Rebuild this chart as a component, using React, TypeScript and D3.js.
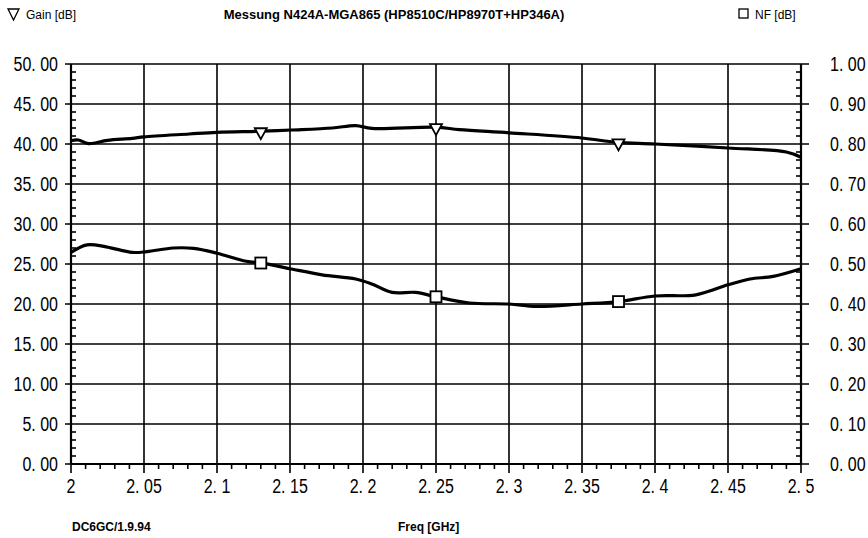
import React from "react";
import * as d3 from "d3";

// ---- data ----
const gainFreq = [2.0, 2.005, 2.012, 2.025, 2.042, 2.05, 2.081, 2.1, 2.131, 2.151, 2.179, 2.195, 2.206, 2.25, 2.266, 2.3, 2.35, 2.374, 2.4, 2.45, 2.49, 2.5];
const gainDb = [40.4, 40.5, 40.05, 40.45, 40.7, 40.9, 41.25, 41.45, 41.6, 41.75, 42.0, 42.3, 41.95, 42.1, 41.8, 41.4, 40.75, 40.2, 40.0, 39.5, 39.0, 38.35];

const nfFreq = [2.0, 2.011, 2.024, 2.042, 2.052, 2.07, 2.084, 2.1, 2.12, 2.131, 2.151, 2.172, 2.195, 2.206, 2.22, 2.236, 2.25, 2.273, 2.3, 2.319, 2.35, 2.375, 2.4, 2.428, 2.45, 2.465, 2.481, 2.5];
const nfDb = [0.529, 0.548, 0.543, 0.529, 0.531, 0.540, 0.539, 0.527, 0.507, 0.502, 0.4875, 0.473, 0.4625, 0.45, 0.429, 0.429, 0.418, 0.4025, 0.40, 0.394, 0.40, 0.406, 0.42, 0.423, 0.448, 0.4625, 0.469, 0.488];

const markerFreqs = [2.13, 2.25, 2.375];

const xTicks = [2.0, 2.05, 2.1, 2.15, 2.2, 2.25, 2.3, 2.35, 2.4, 2.45, 2.5];
const xTickLabels = ["2", "2. 05", "2. 1", "2. 15", "2. 2", "2. 25", "2. 3", "2. 35", "2. 4", "2. 45", "2. 5"];
const yLeftTicks = [0, 5, 10, 15, 20, 25, 30, 35, 40, 45, 50];
const yLeftLabels = ["0. 00", "5. 00", "10. 00", "15. 00", "20. 00", "25. 00", "30. 00", "35. 00", "40. 00", "45. 00", "50. 00"];
const yRightTicks = [0, 0.1, 0.2, 0.3, 0.4, 0.5, 0.6, 0.7, 0.8, 0.9, 1.0];
const yRightLabels = ["0. 00", "0. 10", "0. 20", "0. 30", "0. 40", "0. 50", "0. 60", "0. 70", "0. 80", "0. 90", "1. 00"];

const title = "Messung N424A-MGA865 (HP8510C/HP8970T+HP346A)";
const gainLegend = "Gain [dB]";
const nfLegend = "NF [dB]";
const footLeft = "DC6GC/1.9.94";
const xTitle = "Freq [GHz]";

const numFont = "'Liberation Sans', Arial, sans-serif";
const txtFont = "'Liberation Sans', Arial, sans-serif";

function NText(props: { x: number; y: number; anchor: string; children: string }) {
  return (
    <g transform={`translate(${props.x},${props.y}) scale(0.8,1)`}>
      <text x={0} y={0} textAnchor={props.anchor} fontFamily={numFont} fontSize={20} fill="#000">
        {props.children}
      </text>
    </g>
  );
}

export default function App() {
  const W = 868, H = 538;
  const L = 71, R = 801, T = 64, B = 464;
  const x = d3.scaleLinear().domain([2.0, 2.5]).range([L, R]);
  const yL = d3.scaleLinear().domain([0, 50]).range([B, T]);
  const yR = d3.scaleLinear().domain([0, 1]).range([B, T]);

  const gainLine = d3.line<number>()
    .x((_, i) => x(gainFreq[i]))
    .y((d) => yL(d))
    .curve(d3.curveCatmullRom.alpha(0.5));
  const nfLine = d3.line<number>()
    .x((_, i) => x(nfFreq[i]))
    .y((d) => yR(d))
    .curve(d3.curveCatmullRom.alpha(0.5));

  const gainAt = d3.scaleLinear().domain(gainFreq).range(gainDb);
  const nfAt = d3.scaleLinear().domain(nfFreq).range(nfDb);

  const minorY = d3.range(0, 51, 1).filter((v) => v % 5 !== 0);
  const minorX = d3.range(0, 51, 1).filter((v) => v % 5 !== 0).map((v) => 2 + v / 100);

  return (
    <svg width={W} height={H} style={{ position: "absolute", left: 0, top: 0, background: "#fff" }}>
      <rect x={0} y={0} width={W} height={H} fill="#fff" />
      {/* grid */}
      {yLeftTicks.map((t) => (
        <line key={"gy" + t} x1={L - 6} x2={R + 8} y1={yL(t)} y2={yL(t)} stroke="#000" strokeWidth={1.6} />
      ))}
      {xTicks.map((t) => (
        <line key={"gx" + t} x1={x(t)} x2={x(t)} y1={T} y2={B + 9} stroke="#000" strokeWidth={1.6} />
      ))}
      {/* axes */}
      <line x1={L} x2={L} y1={T} y2={B} stroke="#000" strokeWidth={2.2} />
      <line x1={R} x2={R} y1={T} y2={B} stroke="#000" strokeWidth={2.2} />
      <line x1={L} x2={R} y1={B} y2={B} stroke="#000" strokeWidth={2.2} />
      {minorY.map((t) => (
        <g key={"my" + t}>
          <line x1={L} x2={L + 5} y1={yL(t)} y2={yL(t)} stroke="#000" strokeWidth={1.6} />
          <line x1={R} x2={R - 5} y1={yL(t)} y2={yL(t)} stroke="#000" strokeWidth={1.6} />
        </g>
      ))}
      {minorX.map((t) => (
        <line key={"mx" + t} x1={x(t)} x2={x(t)} y1={B} y2={B + 5} stroke="#000" strokeWidth={1.6} />
      ))}
      {/* tick labels */}
      {yLeftTicks.map((t, i) => (
        <NText key={"yl" + t} x={58} y={yL(t) + 7} anchor="end">{yLeftLabels[i]}</NText>
      ))}
      {yRightTicks.map((t, i) => (
        <NText key={"yr" + t} x={830} y={yR(t) + 7} anchor="start">{yRightLabels[i]}</NText>
      ))}
      {xTicks.map((t, i) => (
        <NText key={"xl" + t} x={x(t)} y={493} anchor="middle">{xTickLabels[i]}</NText>
      ))}
      {/* curves */}
      <path d={gainLine(gainDb) || ""} fill="none" stroke="#000" strokeWidth={3.2} strokeLinejoin="round" />
      <path d={nfLine(nfDb) || ""} fill="none" stroke="#000" strokeWidth={3.2} strokeLinejoin="round" />
      {/* markers */}
      {markerFreqs.map((f) => {
        const cx = x(f), cy = yL(gainAt(f));
        return (
          <path key={"gm" + f} d={`M${cx - 6},${cy - 3}L${cx + 6},${cy - 3}L${cx},${cy + 8}Z`} fill="#fff" stroke="#000" strokeWidth={1.8} />
        );
      })}
      {markerFreqs.map((f) => {
        const cx = x(f), cy = yR(nfAt(f));
        return <rect key={"nm" + f} x={cx - 5.5} y={cy - 5.5} width={11} height={11} fill="#fff" stroke="#000" strokeWidth={1.8} />;
      })}
      {/* legend / titles */}
      <path d="M8,9L19,9L13.5,20Z" fill="none" stroke="#000" strokeWidth={1.3} />
      <text x={26} y={19} fontFamily={txtFont} fontSize={12} fill="#000">{gainLegend}</text>
      <text x={394} y={19} textAnchor="middle" fontFamily={txtFont} fontSize={13} fontWeight="bold" fill="#000">{title}</text>
      <rect x={739} y={9} width={9} height={9} fill="none" stroke="#000" strokeWidth={1.3} />
      <text x={755} y={19} fontFamily={txtFont} fontSize={12} fill="#000">{nfLegend}</text>
      <text x={72} y={531} fontFamily={txtFont} fontSize={12} fontWeight="bold" fill="#000">{footLeft}</text>
      <text x={398} y={531} fontFamily={txtFont} fontSize={12} fontWeight="bold" fill="#000">{xTitle}</text>
    </svg>
  );
}
